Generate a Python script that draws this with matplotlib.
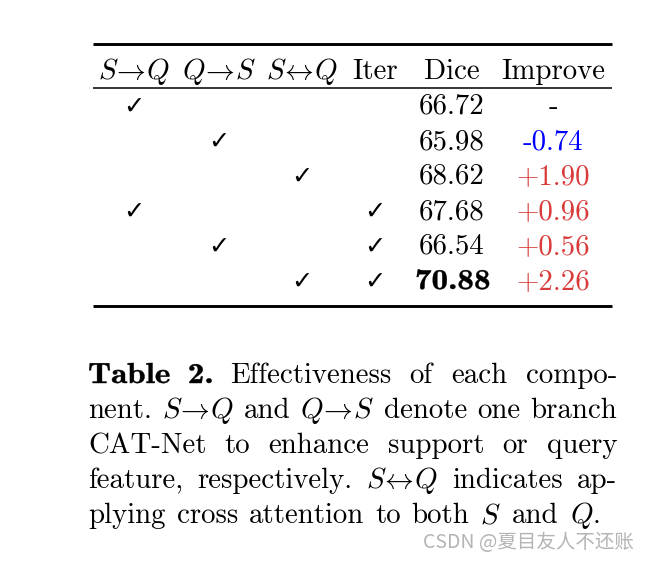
import matplotlib as mpl
mpl.use('Agg')
import matplotlib.pyplot as plt
from matplotlib.textpath import TextPath
from matplotlib.patches import PathPatch
from matplotlib.font_manager import FontProperties
from matplotlib.transforms import Affine2D

plt.rcParams['mathtext.fontset'] = 'cm'

# table content
headers = [r'$S\!\rightarrow\! Q$', r'$Q\!\rightarrow\! S$', r'$S\!\leftrightarrow\! Q$', 'Iter', 'Dice', 'Improve']
s2q = [1, 0, 0, 1, 0, 0]
q2s = [0, 1, 0, 0, 1, 0]
both = [0, 0, 1, 0, 0, 1]
iters = [0, 0, 0, 1, 1, 1]
dice = [66.72, 65.98, 68.62, 67.68, 66.54, 70.88]
improve = ['-', '-0.74', '+1.90', '+0.96', '+0.56', '+2.26']
best_row = 5

caption = [
    [('Table', 'b'), ('2.', 'b'), ('Effectiveness', 'r'), ('of', 'r'), ('each', 'r'), ('compo-', 'r')],
    [('nent.', 'r'), (r'$S\!\rightarrow\! Q$', 'r'), ('and', 'r'), (r'$Q\!\rightarrow\! S$', 'r'),
     ('denote', 'r'), ('one', 'r'), ('branch', 'r')],
    [('CAT-Net', 'r'), ('to', 'r'), ('enhance', 'r'), ('support', 'r'), ('or', 'r'), ('query', 'r')],
    [('feature,', 'r'), ('respectively.', 'r'), (r'$S\!\leftrightarrow\! Q$', 'r'), ('indicates', 'r'), ('ap-', 'r')],
    [('plying', 'r'), ('cross', 'r'), ('attention', 'r'), ('to', 'r'), ('both', 'r'), (r'$S$', 'r'),
     ('and', 'r'), (r'$Q$.', 'r')],
]

FS = 20.8
PX = FS * 100 / 72.0   # em in pixels
BOLD_STRETCH = 1.15
col_x = [134, 219, 302, 375, 452, 553]
row_base = [114, 149, 184, 219, 254, 289]

fig = plt.figure(figsize=(6.49, 5.62), dpi=100)
ax = fig.add_axes([0, 0, 1, 1])
ax.set_xlim(0, 649)
ax.set_ylim(562, 0)
ax.axis('off')

bold_prop = FontProperties(family='cmb10')


def bold_width(s):
    tp = TextPath((0, 0), s, size=1, prop=bold_prop)
    return tp.get_extents().x1 * PX * BOLD_STRETCH


def bold_text(x, y, s, ha='left'):
    # wider, heavier bold, close to cmbx
    tp = TextPath((0, 0), s, size=1, prop=bold_prop)
    w = tp.get_extents().x1 * PX * BOLD_STRETCH
    if ha == 'center':
        x = x - w / 2
    tr = Affine2D().scale(PX * BOLD_STRETCH, -PX).translate(x, y)
    ax.add_patch(PathPatch(tr.transform_path(tp), fc='black', ec='black', lw=0.3))
    return w


def colour(s):
    if s.startswith('+'):
        return '#d93a3a'
    if s.startswith('-') and len(s) > 1:
        return '#0000ff'
    return 'black'


# rules
ax.plot([93, 612], [44, 44], color='black', lw=2.1, solid_capstyle='butt')
ax.plot([93, 612], [88, 88], color='black', lw=1.1, solid_capstyle='butt')
ax.plot([93, 612], [306, 306], color='black', lw=2.1, solid_capstyle='butt')

for x, h in zip(col_x, headers):
    ax.text(x, 79, h, fontsize=FS, family='cmr10', ha='center', va='baseline')

for i, y in enumerate(row_base):
    for j, flags in enumerate([s2q, q2s, both, iters]):
        if flags[i]:
            ax.text(col_x[j], y, '\u2713', fontsize=FS - 2.5, family='DejaVu Sans',
                    ha='center', va='baseline')
    if i == best_row:
        bold_text(col_x[4], y, '%.2f' % dice[i], ha='center')
    else:
        ax.text(col_x[4], y, '%.2f' % dice[i], fontsize=FS, family='cmr10', ha='center', va='baseline')
    ax.text(col_x[5], y, improve[i], fontsize=FS, family='cmr10', ha='center', va='baseline',
            color=colour(improve[i]))

# caption, justified between x0 and x1
fig.canvas.draw()
renderer = fig.canvas.get_renderer()
x0, x1 = 88, 617
line_base = [383, 418, 453, 488, 523]
for k, (words, y) in enumerate(zip(caption, line_base)):
    items = []
    for w, style in words:
        if style == 'b':
            items.append((w, None, bold_width(w)))
        else:
            t = ax.text(0, y, w, fontsize=FS, family='cmr10', ha='left', va='baseline')
            items.append((w, t, t.get_window_extent(renderer).width))
    total = sum(it[2] for it in items)
    if k == len(caption) - 1:
        gap = 11.0
    else:
        gap = (x1 - x0 - total) / (len(items) - 1)
    x = x0
    for w, t, width in items:
        if t is None:
            bold_text(x, y, w)
        else:
            t.set_x(x)
        x += width + gap

ax.text(634, 542, 'CSDN @夏目友人不还账', fontsize=14, color='#b4b4b4', ha='right', va='center',
        family=['Noto Sans CJK SC', 'DejaVu Sans'])

fig.savefig('out.png', dpi=100)
